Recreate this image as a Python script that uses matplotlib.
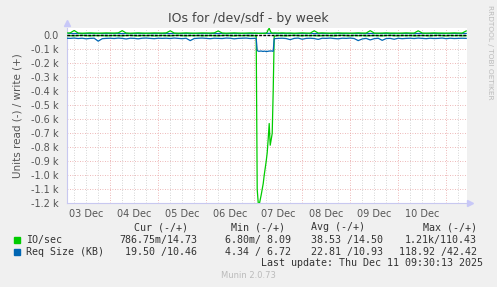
import numpy as np
import matplotlib
matplotlib.use("Agg")
import matplotlib.pyplot as plt
from matplotlib.ticker import FixedLocator, FuncFormatter

# ---------------- data (hours since 03 Dec 00:00) ----------------
hours_a = list(range(2, 97, 2))                 # 2 .. 96
hours_b = [96.5 + 0.5 * i for i in range(20)]    # 96.5 .. 106
hours_c = list(range(108, 203, 2))              # 108 .. 202
hours = hours_a + hours_b + hours_c

# IO/sec write (+)
io_write = [
    14, 15, 32, 14, 13, 14, 15, 14, 13, 14, 15, 14,
    14, 15, 31, 14, 13, 14, 15, 14, 13, 14, 15, 14,
    14, 15, 30, 14, 13, 14, 15, 14, 13, 14, 15, 14,
    14, 15, 29, 14, 13, 14, 15, 14, 13, 14, 15, 14,
    # spike window
    14, 14, 13, 12, 12, 12, 12, 12, 12, 13, 13, 14, 20, 38, 48, 30, 16, 14, 14, 15,
    14, 15, 14, 14, 13, 14, 15, 14, 13, 30, 14, 15,
    14, 13, 14, 15, 14, 14, 13, 14, 15, 14, 14, 31,
    14, 13, 14, 15, 14, 14, 13, 14, 15, 14, 14, 30,
    14, 13, 14, 15, 14, 14, 13, 14, 15, 14, 14, 29,
]
# IO/sec read (-), magnitudes
io_read = [
    4, 5, 6, 4, 3, 5, 6, 4, 5, 4, 6, 5,
    4, 5, 6, 4, 3, 5, 6, 4, 5, 4, 6, 5,
    4, 5, 6, 4, 3, 5, 6, 4, 5, 4, 6, 5,
    4, 5, 6, 4, 3, 5, 6, 4, 5, 4, 6, 5,
    # spike window
    6, 8, 1100, 1195, 1210, 1175, 1140, 1100, 1060, 1000, 950, 900, 840, 740, 631, 786, 745, 702, 400, 8,
    4, 5, 6, 4, 3, 5, 6, 4, 5, 4, 6, 5,
    4, 5, 6, 4, 3, 5, 6, 4, 5, 4, 6, 5,
    4, 5, 6, 4, 3, 5, 6, 4, 5, 4, 6, 5,
    4, 5, 6, 4, 3, 5, 6, 4, 5, 4, 6, 5,
]
# Req Size (KB) read (-), magnitudes
rs_read = [
    23, 24, 22, 25, 23, 27, 24, 23, 44, 26, 24, 23,
    25, 22, 24, 28, 23, 24, 27, 23, 22, 24, 26, 23,
    24, 23, 25, 22, 24, 26, 23, 40, 25, 23, 22, 24,
    26, 23, 24, 25, 22, 23, 27, 24, 23, 22, 25, 24,
    # spike window
    24, 25, 110, 115, 116, 115, 114, 116, 117, 115, 116, 118, 117, 116, 114, 115, 113, 115, 116, 26,
    24, 23, 25, 33, 24, 22, 30, 24, 23, 25, 31, 23,
    24, 22, 25, 27, 23, 24, 22, 25, 40, 28, 24, 35,
    26, 23, 38, 25, 24, 30, 23, 26, 24, 23, 25, 22,
    24, 26, 23, 25, 24, 22, 26, 23, 25, 24, 23, 24,
]
# Req Size (KB) write (+)
rs_write = [
    10, 11, 10, 11, 10, 10, 11, 10, 11, 10, 10, 11,
    10, 11, 10, 11, 10, 10, 11, 10, 11, 10, 10, 11,
    10, 11, 10, 11, 10, 10, 11, 10, 11, 10, 10, 11,
    10, 11, 10, 11, 10, 10, 11, 10, 11, 10, 10, 11,
    11, 11, 12, 12, 12, 12, 12, 12, 12, 12, 12, 12, 12, 12, 12, 12, 12, 12, 11, 11,
    10, 11, 10, 11, 10, 10, 11, 10, 11, 10, 10, 11,
    10, 11, 10, 11, 10, 10, 11, 10, 11, 10, 10, 11,
    10, 11, 10, 11, 10, 10, 11, 10, 11, 10, 10, 11,
    10, 11, 10, 11, 10, 10, 11, 10, 11, 10, 10, 11,
]

day_labels = ["03 Dec", "04 Dec", "05 Dec", "06 Dec", "07 Dec", "08 Dec", "09 Dec", "10 Dec"]
y_ticks = [0, -100, -200, -300, -400, -500, -600, -700, -800, -900, -1000, -1100, -1200]

legend_rows = [
    ("IO/sec", "#00CC00", "786.75m/14.73", "6.80m/ 8.09", "38.53 /14.50", "1.21k/110.43"),
    ("Req Size (KB)", "#0066B3", "19.50 /10.46", "4.34 / 6.72", "22.81 /10.93", "118.92 /42.42"),
]

# ---------------- figure ----------------
W, H = 497, 287
fig = plt.figure(figsize=(W / 100, H / 100), dpi=100, facecolor="#F0F0F0")

def fx(px):
    return px / W

def fy(py):
    return 1 - py / H

ax_left, ax_right, ax_top, ax_bot = 67, 467, 28, 203.3
ax = fig.add_axes([fx(ax_left), fy(ax_bot), (ax_right - ax_left) / W, (ax_bot - ax_top) / H])
ax.set_facecolor("white")

t = np.array(hours, dtype=float)
ax.plot(t, -np.array(io_read), color="#00CC00", lw=0.9, zorder=3)
ax.plot(t, np.array(io_write), color="#00CC00", lw=0.9, zorder=3)
ax.plot(t, -np.array(rs_read), color="#0066B3", lw=0.9, zorder=4)
ax.plot(t, np.array(rs_write), color="#0066B3", lw=0.9, zorder=2)
ax.axhline(0, color="black", lw=1.0, ls=(0, (2, 1)), zorder=5)

ax.set_xlim(2.4, 202.4)
ax.set_ylim(-1200, 50)

# grid
for d in range(1, 9):
    ax.axvline(24 * d, color="#E8A0A0", lw=0.6, ls=(0, (1, 2)), zorder=1)
for q in range(1, 34):
    if q % 4:
        ax.axvline(6 * q, color="#C8C8C8", lw=0.6, ls=(0, (1, 2)), zorder=1)
for v in y_ticks:
    ax.axhline(v, color="#E8A0A0", lw=0.6, ls=(0, (1, 2)), zorder=1)

ax.yaxis.set_major_locator(FixedLocator(y_ticks))
ax.yaxis.set_major_formatter(FuncFormatter(lambda v, p: "0.0" if v == 0 else f"{v/1000:.1f} k"))
ax.xaxis.set_major_locator(FixedLocator([12 + 24 * i for i in range(len(day_labels))]))
ax.set_xticklabels(day_labels)
ax.tick_params(axis="both", length=0, labelsize=7, colors="#555555", pad=4)
ax.tick_params(axis="y", pad=6)

for s in ["top", "right"]:
    ax.spines[s].set_visible(False)
for s in ["left", "bottom"]:
    ax.spines[s].set_color("#C8C8F0")
    ax.spines[s].set_linewidth(0.8)
ax.plot([0], [1.03], marker="^", color="#C8C8F8", ms=5, transform=ax.transAxes, clip_on=False)
ax.plot([1.008], [0], marker=">", color="#C8C8F8", ms=5, transform=ax.transAxes, clip_on=False)

ax.set_ylabel("Units read (-) / write (+)", fontsize=7.5, color="#555555", labelpad=6)

# title
fig.text(fx(248), fy(18.5), "IOs for /dev/sdf - by week", ha="center", va="center",
         fontsize=9, color="#444444")
fig.text(fx(490), fy(5), "RRDTOOL / TOBI OETIKER", rotation=270, ha="center", va="top",
         fontsize=5.3, color="#BBBBBB")

# legend table
mono = dict(family="DejaVu Sans Mono", fontsize=7.2, color="#333333", va="center")
fig.text(fx(134), fy(227), "Cur (-/+)", ha="left", **mono)
fig.text(fx(231), fy(227), "Min (-/+)", ha="left", **mono)
fig.text(fx(311), fy(227), "Avg (-/+)", ha="left", **mono)
fig.text(fx(423), fy(227), "Max (-/+)", ha="left", **mono)
for i, (name, col, cur, mn, avg, mx) in enumerate(legend_rows):
    yy = 240 + 12 * i
    fig.patches.append(plt.Rectangle((fx(14), fy(yy + 3)), 6 / W, 6 / H, transform=fig.transFigure,
                                     color=col, figure=fig))
    fig.text(fx(26), fy(yy), name, ha="left", **mono)
    fig.text(fx(197), fy(yy), cur, ha="right", **mono)
    fig.text(fx(291), fy(yy), mn, ha="right", **mono)
    fig.text(fx(383), fy(yy), avg, ha="right", **mono)
    fig.text(fx(477), fy(yy), mx, ha="right", **mono)
fig.text(fx(483), fy(263.5), "Last update: Thu Dec 11 09:30:13 2025", ha="right", **mono)
fig.text(fx(248), fy(276), "Munin 2.0.73", ha="center", va="center", fontsize=6, color="#BBBBBB")

fig.savefig("out.png", dpi=100, facecolor=fig.get_facecolor())
